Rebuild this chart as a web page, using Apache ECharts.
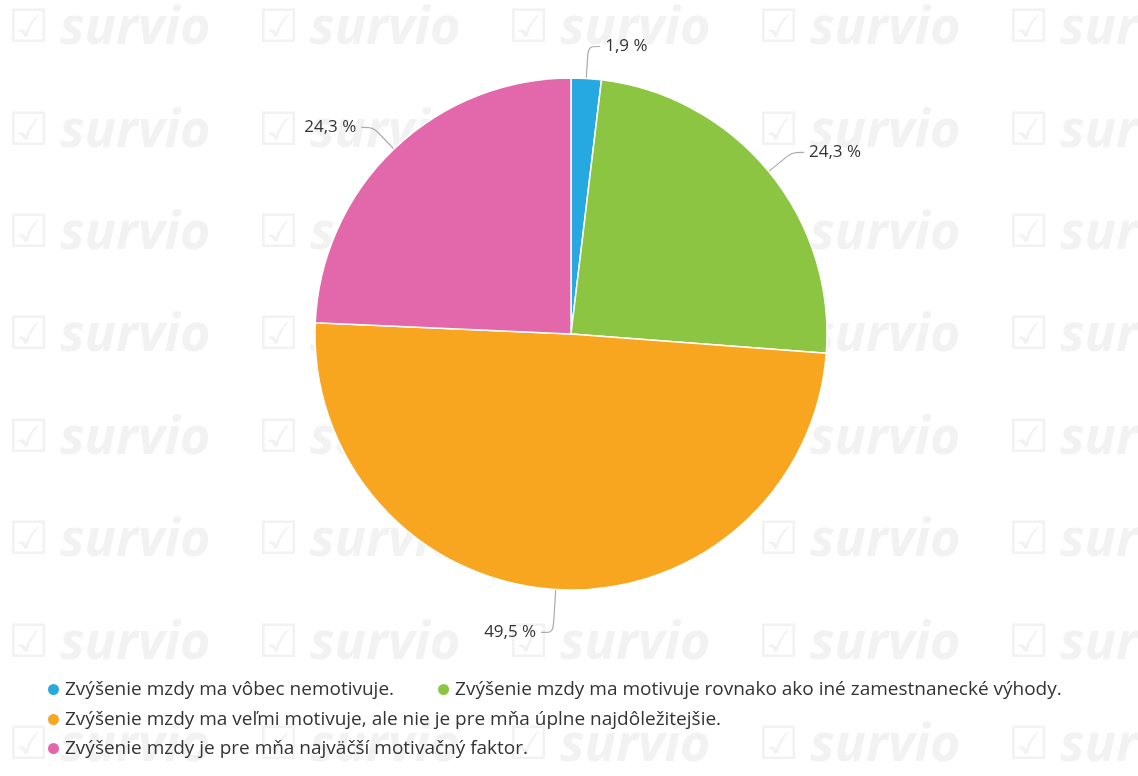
<!DOCTYPE html>
<html><head><meta charset="utf-8">
<script src="https://cdn.jsdelivr.net/npm/echarts@6/dist/echarts.min.js"></script>
<style>html,body{margin:0;padding:0;background:#fff}#c{width:1138px;height:776px}</style>
</head><body><div id="c"></div>
<script>
const categories = [
  'Zvýšenie mzdy ma vôbec nemotivuje.',
  'Zvýšenie mzdy ma motivuje rovnako ako iné zamestnanecké výhody.',
  'Zvýšenie mzdy ma veľmi motivuje, ale nie je pre mňa úplne najdôležitejšie.',
  'Zvýšenie mzdy je pre mňa najväčší motivačný faktor.'
];
const values = [1.9, 24.3, 49.5, 24.3];
const colors = ['#25a9e0', '#8bc541', '#f8a620', '#e267ab'];
const lineLengths = [32, 30, 43, 30];

const wmRows = [33, 136, 238, 340, 443, 545, 648, 750];
const wmCols = [8, 258, 508, 758, 1008];
const graphics = [];
wmRows.forEach(y => wmCols.forEach(x => {
  graphics.push({type:'text', left:x, top:y-26, z:-10, silent:true,
    style:{text:'☑', fill:'#f2f2f2', font:'bold 46px "DejaVu Sans"'}});
  graphics.push({type:'text', left:x+52, top:y-30, z:-10, silent:true,
    style:{text:'survio', fill:'#f2f2f2', font:'italic bold 52px "Open Sans"'}});
}));

const chart = echarts.init(document.getElementById('c'));
const legendText = {fontSize:19, color:'#333', fontFamily:'"Open Sans", sans-serif'};
const legendBase = {icon:'circle', itemWidth:13, itemHeight:13, textStyle:legendText, selectedMode:false, left:41};
chart.setOption({
  color: colors,
  graphic: graphics,
  legend: [
    Object.assign({data:[categories[0], categories[1]], top:675, itemGap:42}, legendBase),
    Object.assign({data:[categories[2]], top:705}, legendBase),
    Object.assign({data:[categories[3]], top:734}, legendBase)
  ],
  series: [{
    type:'pie',
    center:[571, 334],
    radius:256,
    startAngle:90,
    clockwise:true,
    avoidLabelOverlap:false,
    itemStyle:{borderColor:'#fff', borderWidth:1.5},
    label:{
      formatter: p => p.value.toFixed(1).replace('.', ',') + ' %',
      fontSize:17, color:'#333', fontFamily:'"Open Sans", sans-serif'
    },
    labelLine:{length:30, length2:12, smooth:0.3, lineStyle:{color:'#aaa', width:1.2}},
    emphasis:{disabled:true},
    data: categories.map((n,i)=>({name:n, value:values[i], labelLine:{length:lineLengths[i]}}))
  }]
});
</script></body></html>
